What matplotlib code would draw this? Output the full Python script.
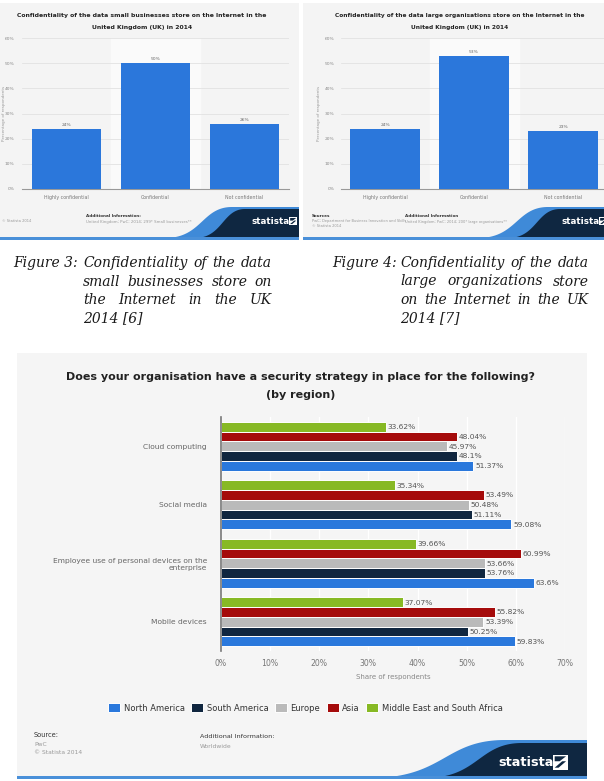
import matplotlib
matplotlib.use('Agg')
import matplotlib.pyplot as plt
from matplotlib.transforms import Affine2D
from matplotlib.patches import Rectangle, Polygon
import numpy as np

# ---------------- data ----------------
conf_categories = ['Highly confidential', 'Confidential', 'Not confidential']
small_business = [24, 50, 26]
large_org = [24, 53, 23]
small_ticks = [0, 10, 20, 30, 40, 50, 60]

strategy_categories = ['Cloud computing', 'Social media',
                       'Employee use of personal devices on the\nenterprise',
                       'Mobile devices']
regions = ['North America', 'South America', 'Europe', 'Asia',
           'Middle East and South Africa']
north_america = [51.37, 59.08, 63.6, 59.83]
south_america = [48.1, 51.11, 53.76, 50.25]
europe = [45.97, 50.48, 53.66, 53.39]
asia = [48.04, 53.49, 60.99, 55.82]
middle_east_south_africa = [33.62, 35.34, 39.66, 37.07]
big_ticks = [0, 10, 20, 30, 40, 50, 60, 70]

caption3 = ['Confidentiality of the data', 'small businesses store on',
            'the Internet in the UK', '2014 [6]']
caption4 = ['Confidentiality of the data', 'large organizations store',
            'on the Internet in the UK', '2014 [7]']

# ---------------- helpers ----------------
W, H = 604, 781
fig = plt.figure(figsize=(W / 100, H / 100), dpi=100)
fig.patch.set_facecolor('white')
PIX = Affine2D().scale(1 / W, -1 / H).translate(0, 1) + fig.transFigure
R = fig.canvas.get_renderer()

BLUE = '#2b77db'
NAVY = '#0f2741'


def axes_px(x0, y0, x1, y1):
    return fig.add_axes([x0 / W, 1 - y1 / H, (x1 - x0) / W, (y1 - y0) / H])


def txt(x, y, s, **kw):
    kw.setdefault('va', 'center')
    return fig.text(x, y, s, transform=PIX, **kw)


def fit(t, width):
    w = t.get_window_extent(R).width
    t.set_fontsize(t.get_fontsize() * width / w)
    return t


def rect(x0, y0, x1, y1, color, z=-5):
    fig.add_artist(Rectangle((x0, y0), x1 - x0, y1 - y0, transform=PIX,
                             facecolor=color, edgecolor='none', zorder=z))


def swoosh(xb, xt, yb, yt, xr, color, z):
    t = np.linspace(0, 1, 50)
    xm = xb + (xt - xb) * 0.55
    px = (1 - t) ** 3 * xb + 3 * (1 - t) ** 2 * t * xm + 3 * (1 - t) * t ** 2 * xm + t ** 3 * xt
    py = (1 - t) ** 3 * yb + 3 * (1 - t) ** 2 * t * yb + 3 * (1 - t) * t ** 2 * yt + t ** 3 * yt
    pts = list(zip(px, py)) + [(xr, yt), (xr, yb)]
    fig.add_artist(Polygon(pts, closed=True, transform=PIX, facecolor=color,
                           edgecolor='none', zorder=z))


def logo(x, y, fs, s):
    txt(x, y, 'statista', color='white', fontsize=fs, weight='bold',
        ha='left', zorder=5)
    xi = x + fs * 5.9
    rect(xi, y - s / 2, xi + s, y + s / 2, 'white', z=5)
    fig.add_artist(Polygon([(xi + s * 0.12, y + s * 0.38), (xi + s * 0.62, y - s * 0.05),
                            (xi + s * 0.88, y - s * 0.05), (xi + s * 0.38, y + s * 0.38)],
                           closed=True, transform=PIX, facecolor=NAVY,
                           edgecolor='none', zorder=6))
    fig.add_artist(Polygon([(xi + s * 0.12, y - s * 0.38), (xi + s * 0.88, y - s * 0.38),
                            (xi + s * 0.45, y - s * 0.05), (xi + s * 0.12, y - s * 0.05)],
                           closed=True, transform=PIX, facecolor=NAVY,
                           edgecolor='none', zorder=6))


# ---------------- top small charts ----------------
def small_chart(x0, x1, vals, title1, tcx, ylab_x, tick_pad):
    ax = axes_px(x0, 38, x1, 189)
    ax.set_facecolor('none')
    ax.axvspan(0.5, 1.5, color='#fafafa', zorder=0)
    ax.bar(range(len(vals)), vals, width=0.78, color=BLUE, zorder=3)
    for i, v in enumerate(vals):
        ax.annotate(f'{v}%', (i, v), xytext=(0, 1.2), textcoords='offset points',
                    ha='center', va='bottom', fontsize=3.2, color='#666')
    ax.set_xlim(-0.5, len(vals) - 0.5)
    ax.set_ylim(0, 60)
    ax.set_yticks(small_ticks, [f'{t}%' for t in small_ticks])
    ax.set_xticks(range(len(vals)), conf_categories)
    ax.tick_params(axis='y', length=0, labelsize=3.2, labelcolor='#888', pad=tick_pad)
    ax.tick_params(axis='x', length=0, labelsize=3.4, labelcolor='#777', pad=4)
    ax.grid(axis='y', color='#e2e2e2', lw=0.6)
    ax.set_axisbelow(True)
    for s in ['top', 'right', 'left']:
        ax.spines[s].set_visible(False)
    ax.spines['bottom'].set_color('#999')
    ax.spines['bottom'].set_linewidth(0.8)
    t1 = txt(tcx, 16, title1, ha='center', weight='bold', color='#222', fontsize=5)
    fit(t1, 252)
    txt(tcx, 27, 'United Kingdom (UK) in 2014', ha='center', weight='bold',
        color='#222', fontsize=t1.get_fontsize())
    txt(ylab_x, 113, 'Percentage of respondents', rotation=90, ha='center',
        fontsize=3, color='#999')
    return ax


rect(0, 3, 299, 240, '#f4f4f4')
rect(303, 3, 604, 240, '#f4f4f4')
small_chart(22, 289, small_business,
            'Confidentiality of the data small businesses store on the Internet in the',
            142, 4, 5.5)
small_chart(340.5, 607.5, large_org,
            'Confidentiality of the data large organisations store on the Internet in the',
            460, 319, 4.5)

# small footers
txt(2, 221, '© Statista 2014', ha='left', fontsize=2.6, color='#999')
txt(86, 216, 'Additional Information:', ha='left', fontsize=3, color='#333', weight='bold')
txt(86, 222, 'United Kingdom; PwC; 2014; 299* Small businesses**', ha='left',
    fontsize=2.8, color='#999')
txt(312, 216, 'Sources', ha='left', fontsize=3, color='#333', weight='bold')
txt(312, 221, 'PwC; Department for Business Innovation and Skills', ha='left',
    fontsize=2.6, color='#999')
txt(312, 226, '© Statista 2014', ha='left', fontsize=2.6, color='#999')
txt(405, 216, 'Additional Information', ha='left', fontsize=3, color='#333', weight='bold')
txt(405, 222, 'United Kingdom; PwC; 2014; 200* large organisations**', ha='left',
    fontsize=2.6, color='#999')

swoosh(165, 232, 238, 207, 299, '#3f8ad8', -2)
swoosh(195, 245, 238, 209, 299, NAVY, -1)
rect(0, 237, 299, 240, '#4a90d9', z=-1)
logo(252, 221, 6.3, 8)

swoosh(478, 548, 238, 207, 604, '#3f8ad8', -2)
swoosh(508, 560, 238, 209, 604, NAVY, -1)
rect(303, 237, 604, 240, '#4a90d9', z=-1)
logo(562, 221, 6.3, 8)

# ---------------- captions ----------------
CAP = dict(family='DejaVu Serif', style='italic', color='#1a1a1a', va='baseline')
probe = txt(0, 0, caption3[0], fontsize=10, **CAP)
FS = 10 * 184 / probe.get_window_extent(R).width
probe.remove()


def justify(words, x0, x1, y):
    ts = [txt(0, y, w, fontsize=FS, ha='left', **CAP) for w in words]
    ws = [t.get_window_extent(R).width for t in ts]
    gap = (x1 - x0 - sum(ws)) / max(len(words) - 1, 1)
    x = x0
    for t, w in zip(ts, ws):
        t.set_x(x)
        x += w + gap


def caption(label, lines, xl, xc, xr):
    ys = [267, 285.5, 304, 322.5]
    txt(xl, ys[0], label, fontsize=FS, ha='left', **CAP)
    for i, line in enumerate(lines):
        if i < len(lines) - 1:
            justify(line.split(), xc, xr, ys[i])
        else:
            txt(xc, ys[i], line, fontsize=FS, ha='left', **CAP)


caption('Figure 3:', caption3, 13, 83, 272)
caption('Figure 4:', caption4, 332, 400, 589)

# ---------------- big chart ----------------
rect(17, 353, 587, 779, '#f5f5f5')
t = txt(301, 377, 'Does your organisation have a security strategy in place for the following?',
        ha='center', weight='bold', color='#222', fontsize=9)
fit(t, 466)
txt(301, 395, '(by region)', ha='center', weight='bold', color='#222',
    fontsize=t.get_fontsize())

ax = axes_px(221, 417, 565, 651)
ax.set_facecolor('none')
series = [north_america, south_america, europe, asia, middle_east_south_africa]
colors = ['#2a78dc', '#10263f', '#bababa', '#a50b0b', '#87b924']
y = np.arange(len(strategy_categories))
h = 0.168
handles = []
for k, (vals, c, name) in enumerate(zip(series, colors, regions)):
    bars = ax.barh(y + (2 - k) * h, vals, height=h, color=c, edgecolor='white',
                   linewidth=0.7, label=name, zorder=3)
    handles.append(bars)
    for b, v in zip(bars, vals):
        ax.annotate(f'{v:g}%', (v, b.get_y() + b.get_height() / 2), xytext=(1.2, -0.3),
                    textcoords='offset points', ha='left', va='center',
                    fontsize=5.4, color='#555', zorder=4)
ax.set_xlim(0, 70)
ax.set_ylim(3.5, -0.5)
ax.set_xticks(big_ticks, [f'{v}%' for v in big_ticks])
ax.set_yticks(y, strategy_categories)
ax.tick_params(axis='x', length=0, labelsize=5.6, labelcolor='#777', pad=5.8)
ax.tick_params(axis='y', length=0, labelsize=5.4, labelcolor='#666', pad=10)
for s in ax.spines.values():
    s.set_visible(False)
ax.grid(axis='x', color='#ffffff', lw=1.0)
ax.set_axisbelow(True)
ax.axvline(0, color='#777', lw=1.2, zorder=5, clip_on=False)
txt(393, 677, 'Share of respondents', ha='center', fontsize=5, color='#888')

fig.legend(handles, regions, loc='center', bbox_to_anchor=(305.5 / W, 1 - 708 / H),
           ncol=5, frameon=False, fontsize=6, labelcolor='#333',
           handlelength=1.44, handleheight=1.2, handletextpad=0.45,
           columnspacing=0.75, borderpad=0, borderaxespad=0)

txt(34, 735, 'Source:', ha='left', fontsize=4.8, color='#333')
txt(34, 744, 'PwC', ha='left', fontsize=4.3, color='#999')
txt(34, 753, '© Statista 2014', ha='left', fontsize=4.3, color='#999')
txt(200, 737, 'Additional Information:', ha='left', fontsize=4.6, color='#333')
txt(200, 747, 'Worldwide', ha='left', fontsize=4.3, color='#999')

swoosh(370, 505, 778, 740, 587, '#3f8ad8', -2)
swoosh(425, 522, 778, 743, 587, NAVY, -1)
rect(17, 776, 587, 779, '#4a90d9', z=-1)
logo(498, 762, 9.3, 15)

fig.savefig('out.png', dpi=100, facecolor='white')
